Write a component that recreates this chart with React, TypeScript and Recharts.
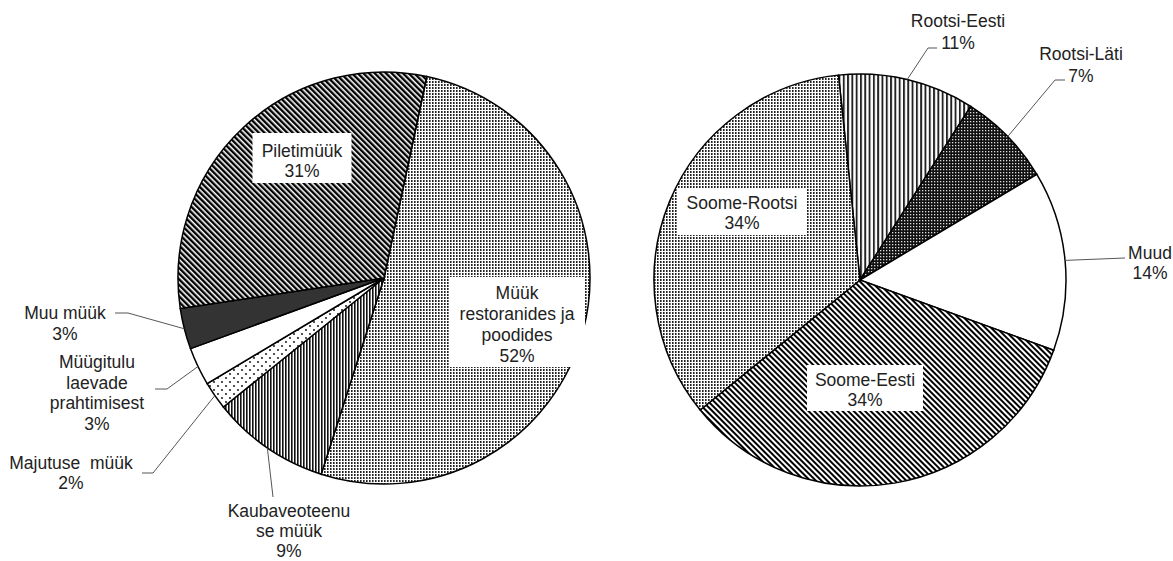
import React from 'react';
import { PieChart, Pie, Cell } from 'recharts';

// Vasak diagramm: tulud tegevusalade kaupa
const leftNames = [
  'Müük restoranides ja poodides',
  'Kaubaveoteenuse müük',
  'Majutuse müük',
  'Müügitulu laevade prahtimisest',
  'Muu müük',
  'Piletimüük',
];
const leftValues = [51.6, 9.3, 2.2, 3.0, 3.2, 30.7];
const leftLabelLines = [
  ['Müük', 'restoranides ja', 'poodides'],
  ['Kaubaveoteenu', 'se müük'],
  ['Majutuse  müük'],
  ['Müügitulu', 'laevade', 'prahtimisest'],
  ['Muu müük'],
  ['Piletimüük'],
];

// Parem diagramm: liinide kaupa
const rightNames = ['Rootsi-Eesti', 'Rootsi-Läti', 'Muud', 'Soome-Eesti', 'Soome-Rootsi'];
const rightValues = [10.7, 7.4, 14.1, 33.6, 34.2];
const rightLabelLines = [['Rootsi-Eesti'], ['Rootsi-Läti'], ['Muud'], ['Soome-Eesti'], ['Soome-Rootsi']];

const leftFills = ['url(#dots)', 'url(#vnarrow)', 'url(#sparse)', '#ffffff', '#333333', 'url(#diag)'];
const rightFills = ['url(#vwide)', 'url(#grid)', '#ffffff', 'url(#diag2)', 'url(#dots)'];

type Layout =
  | { kind: 'box'; cx: number; top: number; w: number; h: number; y0: number; step: number }
  | { kind: 'leader'; pts: number[][]; tx: number; y0: number; step: number };

const leftLayout: Layout[] = [
  { kind: 'box', cx: 517, top: 277, w: 136, h: 90, y0: 293, step: 21 },
  { kind: 'leader', pts: [[273, 497]], tx: 289, y0: 511, step: 20 },
  { kind: 'leader', pts: [[153, 473], [142, 473]], tx: 71, y0: 463, step: 20 },
  { kind: 'leader', pts: [[167, 389], [155, 389]], tx: 97, y0: 362, step: 20.5 },
  { kind: 'leader', pts: [[128, 313], [115, 313]], tx: 65, y0: 313, step: 21 },
  { kind: 'box', cx: 302, top: 133, w: 99, h: 50, y0: 151, step: 20 },
];

const rightLayout: Layout[] = [
  { kind: 'leader', pts: [[928, 48], [937, 48]], tx: 958, y0: 21, step: 22 },
  { kind: 'leader', pts: [[1055, 80], [1065, 80]], tx: 1081, y0: 54, step: 22 },
  { kind: 'leader', pts: [[1125, 258]], tx: 1150, y0: 253, step: 20 },
  { kind: 'box', cx: 865, top: 365, w: 116, h: 46, y0: 380, step: 20 },
  { kind: 'box', cx: 742, top: 188, w: 129, h: 47, y0: 203, step: 20 },
];

const leftData = leftNames.map((name, i) => ({ name, value: leftValues[i] }));
const rightData = rightNames.map((name, i) => ({ name, value: rightValues[i] }));

const RADIAN = Math.PI / 180;
const FONT = '"Liberation Sans", Arial, sans-serif';

const makeLabel = (layout: Layout[], lines: string[][]) => (props: any) => {
  const { cx, cy, midAngle, outerRadius, index, value } = props;
  const L = layout[index];
  const text = [...lines[index], `${Math.round(value)}%`];
  const tx = L.kind === 'box' ? L.cx : L.tx;
  const texts = text.map((t, i) => (
    <text
      key={i}
      x={tx}
      y={L.y0 + i * L.step}
      textAnchor="middle"
      dominantBaseline="central"
      fontFamily={FONT}
      fontSize={17.5}
      fill="#222"
      style={{ whiteSpace: 'pre' }}
    >
      {t}
    </text>
  ));
  if (L.kind === 'box') {
    return (
      <g>
        <rect x={L.cx - L.w / 2} y={L.top} width={L.w} height={L.h} fill="#fff" />
        {texts}
      </g>
    );
  }
  const sx = cx + outerRadius * Math.cos(-midAngle * RADIAN);
  const sy = cy + outerRadius * Math.sin(-midAngle * RADIAN);
  const d = `M${sx},${sy}` + L.pts.map((p) => `L${p[0]},${p[1]}`).join('');
  return (
    <g>
      <path d={d} stroke="#555" strokeWidth={1} fill="none" />
      {texts}
    </g>
  );
};

const Patterns = () => (
  <svg width={0} height={0} style={{ position: 'absolute' }}>
    <defs>
      <pattern id="dots" width={3} height={3} patternUnits="userSpaceOnUse">
        <rect width={3} height={3} fill="#fff" />
        <rect x={0} y={0} width={1.6} height={2} fill="#222" />
      </pattern>
      <pattern id="diag" width={4} height={4} patternUnits="userSpaceOnUse" patternTransform="rotate(-45)">
        <rect width={4} height={4} fill="#fff" />
        <rect width={2.4} height={4} fill="#000" />
      </pattern>
      <pattern id="diag2" width={4} height={4} patternUnits="userSpaceOnUse" patternTransform="rotate(-45)">
        <rect width={4} height={4} fill="#fff" />
        <rect width={2} height={4} fill="#000" />
      </pattern>
      <pattern id="vnarrow" width={3} height={4} patternUnits="userSpaceOnUse">
        <rect width={3} height={4} fill="#fff" />
        <rect width={1.6} height={4} fill="#111" />
      </pattern>
      <pattern id="vwide" width={4.3} height={4} patternUnits="userSpaceOnUse">
        <rect width={4.3} height={4} fill="#fff" />
        <rect width={1.9} height={4} fill="#222" />
      </pattern>
      <pattern id="grid" width={3} height={3} patternUnits="userSpaceOnUse">
        <rect width={3} height={3} fill="#111" />
        <rect x={1} y={1} width={1.3} height={1.3} fill="#ddd" />
      </pattern>
      <pattern id="sparse" width={8} height={8} patternUnits="userSpaceOnUse">
        <rect width={8} height={8} fill="#fff" />
        <circle cx={2} cy={2} r={0.9} fill="#000" />
        <circle cx={6} cy={6} r={0.9} fill="#000" />
      </pattern>
    </defs>
  </svg>
);

export default function App() {
  return (
    <div style={{ position: 'absolute', left: 0, top: 0, width: 1173, height: 561, background: '#fff' }}>
      <Patterns />
      <PieChart width={1173} height={561} margin={{ top: 0, right: 0, bottom: 0, left: 0 }}>
        <Pie
          data={leftData}
          dataKey="value"
          nameKey="name"
          cx={384}
          cy={278}
          outerRadius={206}
          startAngle={78}
          endAngle={-282}
          stroke="#000"
          strokeWidth={1.5}
          label={makeLabel(leftLayout, leftLabelLines)}
          labelLine={false}
          isAnimationActive={false}
        >
          {leftData.map((d, i) => (
            <Cell key={d.name} fill={leftFills[i]} />
          ))}
        </Pie>
        <Pie
          data={rightData}
          dataKey="value"
          nameKey="name"
          cx={860}
          cy={280}
          outerRadius={206}
          startAngle={96}
          endAngle={-264}
          stroke="#000"
          strokeWidth={1.5}
          label={makeLabel(rightLayout, rightLabelLines)}
          labelLine={false}
          isAnimationActive={false}
        >
          {rightData.map((d, i) => (
            <Cell key={d.name} fill={rightFills[i]} />
          ))}
        </Pie>
      </PieChart>
    </div>
  );
}
